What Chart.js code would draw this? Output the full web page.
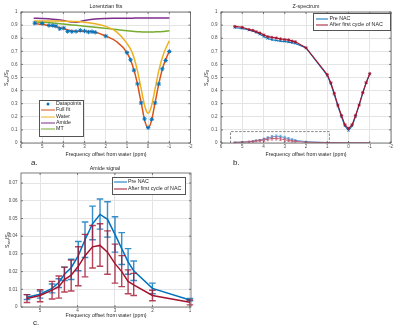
<!DOCTYPE html>
<html>
<head>
<meta charset="utf-8">
<script src="https://cdn.jsdelivr.net/npm/chart.js@4.4.1/dist/chart.umd.min.js"></script>
<style>
  body { margin: 0; background: #fff; }
  #wrap { position: relative; width: 400px; height: 326px; overflow: hidden;
          font-family: "Liberation Sans", Arial, sans-serif; color: #262626; }
  canvas { position: absolute; }
  .t { position: absolute; white-space: nowrap; line-height: 1; font-size: 5.3px; }
  .c { transform: translate(-50%, -50%); }
  .r { transform: translate(-50%, -50%) rotate(-90deg); }
  .t sub { font-size: 3.8px; vertical-align: -1px; line-height: 0; }
  .tag { position: absolute; font-size: 8px; line-height: 1; transform: translateY(-50%); }
  .box { position: absolute; border: 0.8px solid #555; background: #fff; }
  .ln { position: absolute; height: 0; border-top: 1.5px solid; transform: translateY(-50%); }
  .mk { position: absolute; width: 3px; height: 3px; border-radius: 50%; background: #0072BD; transform: translate(-50%, -50%); }
  .lt { position: absolute; font-size: 5.3px; line-height: 1; white-space: nowrap; transform: translateY(-50%); }
</style>
</head>
<body>
<div id="wrap">
  <canvas id="ca" width="200" height="160" style="left:0;top:0"></canvas>
  <canvas id="cb" width="200" height="160" style="left:200px;top:0"></canvas>
  <canvas id="cc" width="200" height="166" style="left:0;top:160px"></canvas>

  <!-- panel a text -->
  <div class="t c" style="left:106px;top:7px">Lorentzian fits</div>
  <div class="t r" style="left:7px;top:78px">S<sub>sat</sub>/S<sub>0</sub></div>
  <div class="t c" style="left:106px;top:155px">Frequency offset from water (ppm)</div>
  <div class="tag" style="left:31px;top:163px">a.</div>
  <div class="box" style="left:38.5px;top:100px;width:43px;height:35px"></div>
  <div class="mk" style="left:47.5px;top:103.8px"></div>
  <div class="lt" style="left:56px;top:103.8px">Datapoints</div>
  <div class="ln" style="left:40.5px;top:110.2px;width:14px;border-color:#D95319"></div>
  <div class="lt" style="left:56px;top:110.2px">Full fit</div>
  <div class="ln" style="left:40.5px;top:116.5px;width:14px;border-color:#EDB120"></div>
  <div class="lt" style="left:56px;top:116.5px">Water</div>
  <div class="ln" style="left:40.5px;top:122.8px;width:14px;border-color:#7E2F8E"></div>
  <div class="lt" style="left:56px;top:122.8px">Amide</div>
  <div class="ln" style="left:40.5px;top:129.1px;width:14px;border-color:#77AC30"></div>
  <div class="lt" style="left:56px;top:129.1px">MT</div>

  <!-- panel b text -->
  <div class="t c" style="left:306px;top:7px">Z-spectrum</div>
  <div class="t r" style="left:207px;top:78px">S<sub>sat</sub>/S<sub>0</sub></div>
  <div class="t c" style="left:306px;top:155px">Frequency offset from water (ppm)</div>
  <div class="tag" style="left:233px;top:163px">b.</div>
  <div class="box" style="left:313.3px;top:13.3px;width:76px;height:16px"></div>
  <div class="ln" style="left:316px;top:18.7px;width:12px;border-color:#0072BD"></div>
  <div class="lt" style="left:329.5px;top:18.7px">Pre NAC</div>
  <div class="ln" style="left:316px;top:24.5px;width:12px;border-color:#A2142F"></div>
  <div class="lt" style="left:329.5px;top:24.5px">After first cycle of NAC</div>

  <!-- panel c text -->
  <div class="t c" style="left:105px;top:169px">Amide signal</div>
  <div class="t r" style="left:8px;top:240px">S<sub>sat</sub>/S<sub>0</sub></div>
  <div class="t c" style="left:106px;top:316px">Frequency offset from water (ppm)</div>
  <div class="tag" style="left:33px;top:323px">c.</div>
  <div class="box" style="left:112px;top:177px;width:72px;height:15.5px"></div>
  <div class="ln" style="left:113.5px;top:182px;width:13.5px;border-color:#0072BD"></div>
  <div class="lt" style="left:128px;top:182px">Pre NAC</div>
  <div class="ln" style="left:113.5px;top:188.5px;width:13.5px;border-color:#A2142F"></div>
  <div class="lt" style="left:128px;top:188.5px">After first cycle of NAC</div>
</div>

<script>
// Saturation offsets (ppm) of the acquired Z-spectrum
const offsets = [5.35, 5.0, 4.68, 4.5, 4.35, 4.17, 3.98, 3.8, 3.6, 3.4, 3.2, 3.0, 2.82, 2.65, 2.5, 2.0, 1.0,
                 0.83, 0.67, 0.5, 0.33, 0.17, 0, -0.17, -0.33, -0.5, -0.67, -0.83, -1.0];

// a. Lorentzian fits
const datapoints = [0.915, 0.913, 0.897, 0.897, 0.893, 0.872, 0.877, 0.852, 0.85, 0.852, 0.86, 0.855, 0.847, 0.85, 0.845,
                    0.816, 0.69, 0.635, 0.556, 0.451, 0.306, 0.184, 0.117, 0.181, 0.306, 0.45, 0.566, 0.63, 0.699];
const fitOffsets = [5.4, 5.0, 4.5, 4.0, 3.7, 3.4, 3.0, 2.5, 2.0, 1.5, 1.0, 0.75, 0.5, 0.4, 0.3, 0.22, 0.15, 0.07, 0,
                    -0.07, -0.15, -0.22, -0.3, -0.4, -0.5, -0.75, -1.0];
const fullFit = [0.913, 0.905, 0.893, 0.874, 0.858, 0.852, 0.853, 0.846, 0.817, 0.775, 0.69, 0.6, 0.45, 0.365, 0.285,
                 0.215, 0.165, 0.128, 0.117, 0.128, 0.165, 0.215, 0.285, 0.365, 0.45, 0.605, 0.7];
const waterFit = [0.932, 0.932, 0.932, 0.93, 0.929, 0.927, 0.922, 0.91, 0.89, 0.85, 0.76, 0.69, 0.55, 0.47, 0.39,
                  0.325, 0.277, 0.24, 0.228, 0.24, 0.277, 0.325, 0.39, 0.47, 0.55, 0.69, 0.78];
const amideFit = [0.952, 0.95, 0.945, 0.935, 0.925, 0.922, 0.935, 0.947, 0.951, 0.952, 0.953, 0.953, 0.954, 0.954,
                  0.954, 0.954, 0.954, 0.954, 0.954, 0.954, 0.954, 0.954, 0.954, 0.955, 0.955, 0.955, 0.955];
const mtFit = [0.925, 0.922, 0.916, 0.908, 0.903, 0.898, 0.892, 0.884, 0.875, 0.866, 0.857, 0.853, 0.85, 0.849, 0.848,
               0.848, 0.847, 0.847, 0.847, 0.847, 0.847, 0.848, 0.848, 0.849, 0.849, 0.852, 0.856];

// b. Z-spectrum
const zPre = [0.88, 0.874, 0.862, 0.855, 0.845, 0.83, 0.812, 0.797, 0.788, 0.783, 0.778, 0.775, 0.77, 0.765, 0.76,
              0.725, 0.515, 0.45, 0.37, 0.28, 0.2, 0.13, 0.095, 0.13, 0.2, 0.29, 0.38, 0.46, 0.525];
const zPost = [0.89, 0.883, 0.866, 0.86, 0.85, 0.84, 0.825, 0.812, 0.806, 0.802, 0.795, 0.79, 0.787, 0.778, 0.772,
               0.727, 0.522, 0.46, 0.38, 0.29, 0.21, 0.14, 0.11, 0.14, 0.21, 0.29, 0.385, 0.46, 0.53];
const zoomBoxX = [5.55, 5.55, 0.9, 0.9];
const zoomBoxY = [0, 0.087, 0.087, 0];

// c. Amide signal (first 17 offsets), mean and error bar ends
const amideOffsets = [5.35, 5.0, 4.68, 4.5, 4.35, 4.17, 3.98, 3.8, 3.6, 3.4, 3.2, 3.0, 2.82, 2.65, 2.5, 2.0, 1.0];
const amidePre = [0.0055, 0.0072, 0.0105, 0.0138, 0.0185, 0.0222, 0.029, 0.038, 0.047, 0.0523, 0.0495, 0.041, 0.033,
                  0.0255, 0.0205, 0.0105, 0.004];
const amidePreLo = [0.0042, 0.005, 0.008, 0.011, 0.015, 0.0155, 0.0205, 0.028, 0.038, 0.044, 0.0395, 0.031, 0.024,
                    0.0185, 0.015, 0.0075, 0.0035];
const amidePreHi = [0.007, 0.009, 0.013, 0.016, 0.0225, 0.027, 0.037, 0.048, 0.057, 0.061, 0.0595, 0.051, 0.042,
                    0.033, 0.026, 0.0135, 0.0048];
const amidePost = [0.0048, 0.0065, 0.0095, 0.0115, 0.0155, 0.018, 0.023, 0.029, 0.034, 0.0348, 0.031, 0.0245, 0.02,
                   0.0145, 0.0125, 0.0065, 0.0027];
const amidePostLo = [0.0025, 0.003, 0.0045, 0.005, 0.0085, 0.009, 0.012, 0.017, 0.022, 0.023, 0.0185, 0.0135, 0.0115,
                     0.0075, 0.0065, 0.0035, 0.0012];
const amidePostHi = [0.007, 0.0098, 0.0145, 0.0175, 0.0225, 0.0265, 0.034, 0.041, 0.046, 0.047, 0.043, 0.0355, 0.029,
                     0.021, 0.019, 0.0095, 0.004];
// near-zero amide residual at the offsets below 1 ppm (panel b only)
const amideTailPre = [0.003, 0.003, 0.002, 0.002, 0.002, 0.002, 0.002, 0.002, 0.002, 0.002, 0.002, 0.002];
const amideTailPost = [0.003, 0.003, 0.003, 0.002, 0.002, 0.002, 0.002, 0.002, 0.002, 0.002, 0.002, 0.002];

// tick values
const xTicksZ = [6, 5, 4, 3, 2, 1, 0, -1, -2];
const yTicksZ = [0, 0.1, 0.2, 0.3, 0.4, 0.5, 0.6, 0.7, 0.8, 0.9, 1];
const xTicksAmide = [5, 4, 3, 2, 1];
const yTicksAmide = [0, 0.01, 0.02, 0.03, 0.04, 0.05, 0.06, 0.07];

const BLUE = "#0072BD", RED = "#A2142F";
const FONT = '"Liberation Sans", Arial, sans-serif';
const GRID = "#e4e4e4", TICK = "#4a4a4a";

const pts = (xs, ys) => xs.map((x, i) => ({ x, y: ys[i] }));

// MATLAB-style box with inward ticks
const boxPlugin = {
  id: "box",
  afterDraw(chart) {
    const { ctx, chartArea: a, scales } = chart;
    ctx.save();
    ctx.strokeStyle = "#5c5c5c";
    ctx.lineWidth = 0.8;
    ctx.strokeRect(a.left, a.top, a.right - a.left, a.bottom - a.top);
    ctx.beginPath();
    scales.x.ticks.forEach((t) => {
      const p = scales.x.getPixelForValue(t.value);
      ctx.moveTo(p, a.bottom); ctx.lineTo(p, a.bottom - 2);
      ctx.moveTo(p, a.top); ctx.lineTo(p, a.top + 2);
    });
    scales.y.ticks.forEach((t) => {
      const p = scales.y.getPixelForValue(t.value);
      ctx.moveTo(a.left, p); ctx.lineTo(a.left + 2, p);
      ctx.moveTo(a.right, p); ctx.lineTo(a.right - 2, p);
    });
    ctx.stroke();
    ctx.restore();
  },
};

// vertical error bars with caps, drawn right after their dataset
const errorBarPlugin = {
  id: "errorBars",
  afterDatasetDraw(chart, args) {
    const eb = chart.data.datasets[args.index].errorBars;
    if (!eb) return;
    const { ctx, scales: { x: sx, y: sy } } = chart;
    ctx.save();
    ctx.strokeStyle = eb.color;
    ctx.lineWidth = eb.width;
    ctx.beginPath();
    eb.x.forEach((v, i) => {
      const px = sx.getPixelForValue(v);
      const lo = sy.getPixelForValue(eb.lo[i]);
      const hi = sy.getPixelForValue(eb.hi[i]);
      ctx.moveTo(px, lo); ctx.lineTo(px, hi);
      ctx.moveTo(px - eb.cap, lo); ctx.lineTo(px + eb.cap, lo);
      ctx.moveTo(px - eb.cap, hi); ctx.lineTo(px + eb.cap, hi);
    });
    ctx.stroke();
    ctx.restore();
  },
};

function axes(xMin, xMax, xTicks, yMin, yMax, yTicks, xHeight) {
  const tickFont = { family: FONT, size: 4.5 };
  return {
    x: {
      type: "linear", reverse: true, min: xMin, max: xMax,
      afterBuildTicks: (s) => { s.ticks = xTicks.map((v) => ({ value: v })); },
      afterFit: (s) => { s.height = xHeight; },
      grid: { color: GRID, drawTicks: false },
      border: { display: false },
      ticks: { color: TICK, font: tickFont, padding: 1, maxRotation: 0, autoSkip: false, callback: (v) => String(v) },
    },
    y: {
      type: "linear", min: yMin, max: yMax,
      afterBuildTicks: (s) => { s.ticks = yTicks.map((v) => ({ value: v })); },
      afterFit: (s) => { s.width = 21; },
      grid: { color: GRID, drawTicks: false },
      border: { display: false },
      ticks: { color: TICK, font: tickFont, padding: 3.5, autoSkip: false, callback: (v) => String(v) },
    },
  };
}

const common = (padTop, padRight) => ({
  responsive: false,
  animation: false,
  events: [],
  devicePixelRatio: 1,
  layout: { padding: { top: padTop, right: padRight, left: 0, bottom: 0 } },
  plugins: { legend: { display: false }, tooltip: { enabled: false } },
});

const curve = (label, xs, ys, color, order) => ({
  label, data: pts(xs, ys), borderColor: color, borderWidth: 1.5, pointRadius: 0,
  cubicInterpolationMode: "monotone", order,
});

// a. Lorentzian fits
new Chart(document.getElementById("ca"), {
  type: "line",
  data: {
    datasets: [
      { label: "Datapoints", data: pts(offsets, datapoints), showLine: false, pointStyle: "star",
        pointRadius: 2.2, pointBorderWidth: 1, borderColor: BLUE, backgroundColor: BLUE, order: 0 },
      curve("Full fit", fitOffsets, fullFit, "#D95319", 1),
      curve("Water", fitOffsets, waterFit, "#EDB120", 2),
      curve("Amide", fitOffsets, amideFit, "#7E2F8E", 3),
      curve("MT", fitOffsets, mtFit, "#77AC30", 4),
    ],
  },
  options: { ...common(12, 9.5), scales: axes(-2, 6, xTicksZ, 0, 1, yTicksZ, 17) },
  plugins: [boxPlugin, errorBarPlugin],
});

// b. Z-spectrum
new Chart(document.getElementById("cb"), {
  type: "line",
  data: {
    datasets: [
      { label: "After first cycle of NAC", data: pts(offsets, zPost), borderColor: RED, backgroundColor: RED,
        borderWidth: 1.1, pointStyle: "star", pointRadius: 1.6, pointBorderWidth: 0.8, order: 1 },
      { label: "Pre NAC", data: pts(offsets, zPre), borderColor: BLUE, backgroundColor: BLUE,
        borderWidth: 1.1, pointStyle: "crossRot", pointRadius: 1.6, pointBorderWidth: 0.8, order: 2 },
      { label: "Amide post", data: pts(offsets, amidePost.concat(amideTailPost)), borderColor: "#c0506a",
        borderWidth: 0.9, pointRadius: 0, order: 3,
        errorBars: { x: amideOffsets, lo: amidePostLo, hi: amidePostHi, color: "#c0506a", width: 0.7, cap: 1.2 } },
      { label: "Amide pre", data: pts(offsets, amidePre.concat(amideTailPre)), borderColor: "#4a9bd6",
        borderWidth: 0.9, pointRadius: 0, order: 4,
        errorBars: { x: amideOffsets, lo: amidePreLo, hi: amidePreHi, color: "#4a9bd6", width: 0.7, cap: 1.2 } },
      { label: "Zoom box", data: pts(zoomBoxX, zoomBoxY), borderColor: "#666", borderWidth: 0.8,
        borderDash: [2.5, 1.5], pointRadius: 0, order: 5 },
    ],
  },
  options: { ...common(12, 9), scales: axes(-2, 6, xTicksZ, 0, 1, yTicksZ, 17) },
  plugins: [boxPlugin, errorBarPlugin],
});

// c. Amide signal
new Chart(document.getElementById("cc"), {
  type: "line",
  data: {
    datasets: [
      { label: "After first cycle of NAC", data: pts(amideOffsets, amidePost), borderColor: RED, borderWidth: 1.5,
        pointRadius: 0, order: 1,
        errorBars: { x: amideOffsets, lo: amidePostLo, hi: amidePostHi, color: "rgba(162,20,47,0.8)", width: 1.4, cap: 3.3 } },
      { label: "Pre NAC", data: pts(amideOffsets, amidePre), borderColor: BLUE, borderWidth: 1.5,
        pointRadius: 0, order: 2,
        errorBars: { x: amideOffsets, lo: amidePreLo, hi: amidePreHi, color: "rgba(0,114,189,0.8)", width: 1.4, cap: 3.3 } },
    ],
  },
  options: { ...common(13, 9), scales: axes(0.97, 5.51, xTicksAmide, 0, 0.0757, yTicksAmide, 19) },
  plugins: [boxPlugin, errorBarPlugin],
});
</script>
</body>
</html>
